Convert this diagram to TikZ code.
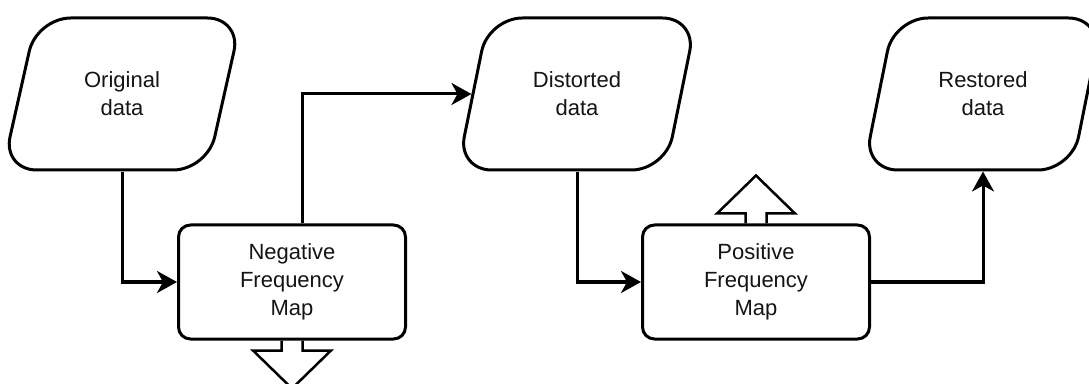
\documentclass[tikz,border=0pt]{standalone}
\usepackage{fontspec}
\setmainfont{Liberation Sans}
\usetikzlibrary{arrows.meta,calc,shapes.geometric}
\definecolor{ink}{RGB}{20,20,20}

\begin{document}
\begin{tikzpicture}[x=1pt,y=1pt,
    datanode/.style={draw,line width=3pt,trapezium,trapezium left angle=72,trapezium right angle=108,
      trapezium stretches=true,minimum width=239pt,minimum height=152pt,rounded corners=34pt,
      align=center,text=ink,font=\fontsize{22}{28}\selectfont},
    mapbox/.style={draw,line width=3pt,rounded corners=12pt,minimum width=227pt,minimum height=114pt,
      align=center,text=ink,font=\fontsize{22}{28}\selectfont},
    conn/.style={line width=3pt,-{Stealth[length=20pt,width=22pt,inset=6pt]}},
    hollow/.style={line width=2.5pt,line join=miter}]
  \useasboundingbox (0,0) rectangle (1089,383);
  % data shapes
  \foreach \x/\name/\txt in {122/orig/Original,577/dist/Distorted,983/rest/Restored}{
    \node[datanode] (\name) at (\x,289) {\txt\\data};
  }
  % maps
  \foreach \x/\name/\txt in {292/neg/Negative,756/pos/Positive}{
    \node[mapbox] (\name) at (\x,101) {\txt\\Frequency\\Map};
  }
  % hollow arrows
  \foreach \nd/\s in {neg.south/-1,pos.north/1}{
    \draw[hollow,shift={(\nd)},yscale=\s] (-10.5,0) -- (-10.5,10) -- (-39,10) -- (0,48) -- (39,10) -- (10.5,10) -- (10.5,0);
  }
  \draw[conn] (orig.south) |- (neg.west);
  \draw[conn] ($(neg.north)+(10,0)$) |- (dist.west);
  \draw[conn] (dist.south) |- (pos.west);
  \draw[conn] (pos.east) -| (rest.south);
\end{tikzpicture}
\end{document}
